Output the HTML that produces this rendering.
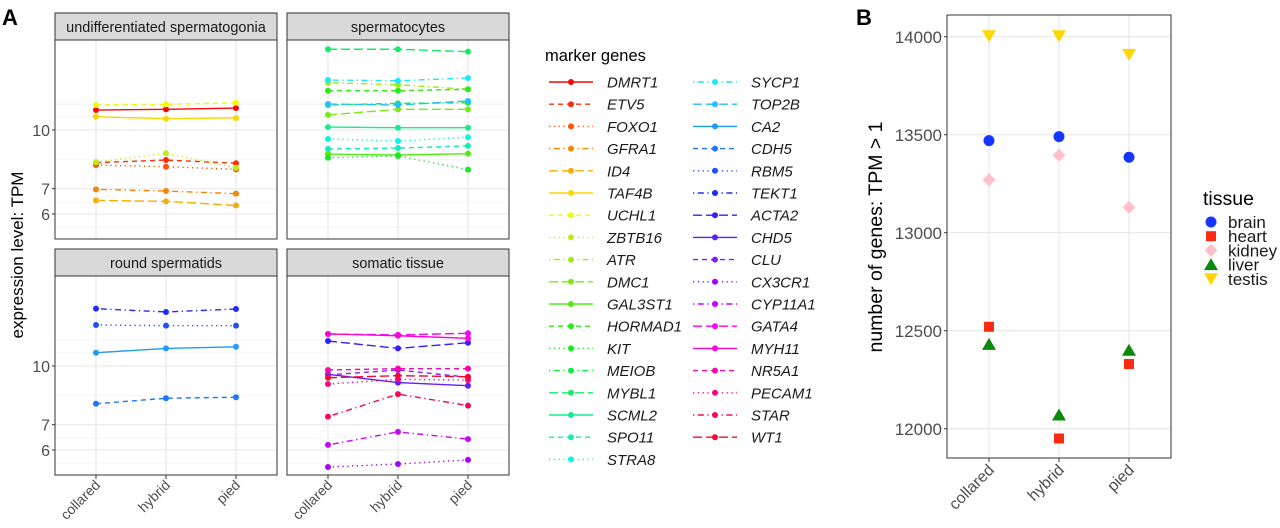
<!DOCTYPE html>
<html><head><meta charset="utf-8"><style>
html,body{margin:0;padding:0;background:#fff;}
svg{display:block;font-family:"Liberation Sans",Arial,sans-serif;}
</style></head><body>
<svg id="fig" width="1280" height="528" viewBox="0 0 1280 528" xmlns="http://www.w3.org/2000/svg">
<text x="2" y="25" font-size="22" font-weight="bold" fill="#000">A</text>
<text x="856" y="25" font-size="22" font-weight="bold" fill="#000">B</text>
<text transform="translate(23,255) rotate(-90)" text-anchor="middle" font-size="17" fill="#000">expression level:  TPM</text>
<text transform="translate(882,237) rotate(-90)" text-anchor="middle" font-size="19.5" fill="#000">number of genes: TPM &gt; 1</text>
<g id="gA"></g><g id="gB"></g><g id="legA"></g><g id="legB"></g>
</svg>
<script>
const genes = ["DMRT1","ETV5","FOXO1","GFRA1","ID4","TAF4B","UCHL1","ZBTB16","ATR","DMC1","GAL3ST1","HORMAD1","KIT","MEIOB","MYBL1","SCML2","SPO11","STRA8","SYCP1","TOP2B","CA2","CDH5","RBM5","TEKT1","ACTA2","CHD5","CLU","CX3CR1","CYP11A1","GATA4","MYH11","NR5A1","PECAM1","STAR","WT1"];
const species = ["collared","hybrid","pied"];
const panelTitles = ["undifferentiated spermatogonia","spermatocytes","round spermatids","somatic tissue"];
const panelOf = [0,0,0,0,0,0,0,0,1,1,1,1,1,1,1,1,1,1,1,1,2,2,2,2,3,3,3,3,3,3,3,3,3,3,3];
const expr = [
[11.29,11.34,11.43],[8.20,8.33,8.17],[8.08,8.00,7.87],[6.97,6.90,6.79],[6.52,6.48,6.32],
[10.84,10.71,10.76],[11.64,11.69,11.80],[8.22,8.68,7.95],
[13.33,13.17,12.81],[10.96,11.34,11.34],[8.64,8.59,8.66],[12.70,12.70,12.81],[8.45,8.54,7.86],
[11.64,11.76,11.80],[16.34,16.34,16.10],[10.18,10.14,10.14],[8.91,8.96,9.08],[9.47,9.35,9.57],
[13.55,13.49,13.72],[11.71,11.64,11.93],
[10.84,11.13,11.24],[7.95,8.22,8.27],[12.83,12.78,12.78],[14.17,13.89,14.14],
[11.64,11.13,11.52],[9.51,9.04,8.87],[9.47,9.76,9.34],[5.41,5.51,5.65],[6.19,6.70,6.41],
[12.15,12.08,12.20],[12.15,12.02,11.83],[9.76,9.84,9.84],[8.96,9.22,9.18],[7.35,8.43,7.86],[9.31,9.43,9.37]
];
const yTicksA = [6,7,10];
const yMinorA = [5.54,6.45,8.37,10.83,11.71];
const tissues = ["brain","heart","kidney","liver","testis"];
const geneCounts = [[13470,13490,13385],[12520,11950,12330],[13270,13395,13130],[12430,12070,12400],[14005,14005,13910]];
const yTicksB = [12000,12500,13000,13500,14000];
</script>
<script>
const NS="http://www.w3.org/2000/svg";
function mk(tag,attrs,parent){const e=document.createElementNS(NS,tag);for(const k in attrs)e.setAttribute(k,attrs[k]);parent.appendChild(e);return e;}
const dashes=["none","5,4","1.3,3.5","1.3,3.5,6,3.5","9,4"];
function col(i){const h=i*360/genes.length;return "hsl("+h+","+(h>70&&h<170?85:95)+"%,"+(i>=18&&i<=26?55:50)+"%)";}
const gA=document.getElementById("gA");
const panels=[{x0:55,x1:277,st:13,p0:40,p1:239,base:130},{x0:287,x1:509,st:13,p0:40,p1:239,base:130},
{x0:55,x1:277,st:249,p0:276,p1:475,base:366},{x0:287,x1:509,st:249,p0:276,p1:475,base:366}];
function xA(p,j){return p.x0+41+j*70;}
function yA(p,v){return p.base-114*Math.log2(v/10);}
panels.forEach((p,pi)=>{
  const g=mk("g",{},gA);
  
  
  mk("rect",{x:p.x0,y:p.p0,width:p.x1-p.x0,height:p.p1-p.p0,fill:"#fff"},g);
  yMinorA.forEach(v=>mk("line",{x1:p.x0,x2:p.x1,y1:yA(p,v),y2:yA(p,v),stroke:"#f2f2f2","stroke-width":0.8},g));
  yTicksA.forEach(v=>mk("line",{x1:p.x0,x2:p.x1,y1:yA(p,v),y2:yA(p,v),stroke:"#ebebeb","stroke-width":1.3},g));
  species.forEach((s,j)=>mk("line",{x1:xA(p,j),x2:xA(p,j),y1:p.p0,y2:p.p1,stroke:"#ebebeb","stroke-width":1.3},g));
  const st=mk("rect",{x:p.x0,y:p.st,width:p.x1-p.x0,height:p.p0-p.st,fill:"#d9d9d9",stroke:"#333","stroke-width":1},g);
  
  
  const t=mk("text",{x:(p.x0+p.x1)/2,y:p.st+19,"text-anchor":"middle","font-size":14.5,fill:"#1a1a1a"},g);
  t.textContent=panelTitles[pi];
  
  
  genes.forEach((gn,i)=>{
    if(panelOf[i]!==pi)return;
    const pts=expr[i].map((v,j)=>xA(p,j)+","+yA(p,v)).join(" ");
    const pl=mk("polyline",{points:pts,fill:"none",stroke:col(i),"stroke-width":1.4,"stroke-dasharray":dashes[i%5]},g);
    
    
    expr[i].forEach((v,j)=>{
      const c=mk("circle",{cx:xA(p,j),cy:yA(p,v),r:3,fill:col(i)},g);
      
      
    });
  });
  mk("rect",{x:p.x0,y:p.p0,width:p.x1-p.x0,height:p.p1-p.p0,fill:"none",stroke:"#333","stroke-width":1},g);
  if(pi%2===0){
    yTicksA.forEach(v=>{
      mk("line",{x1:p.x0-3,x2:p.x0,y1:yA(p,v),y2:yA(p,v),stroke:"#333"},g);
      const tl=mk("text",{x:p.x0-5,y:yA(p,v)+6,"text-anchor":"end","font-size":16,fill:"#4d4d4d"},g);
      tl.textContent=v;
      
      
    });
  }
  if(pi>=2){
    species.forEach((s,j)=>{
      mk("line",{x1:xA(p,j),x2:xA(p,j),y1:p.p1,y2:p.p1+4,stroke:"#333"},g);
      const tl=mk("text",{transform:"translate("+(xA(p,j)+5)+","+(p.p1+11)+") rotate(-45)","text-anchor":"end","font-size":14,fill:"#4d4d4d"},g);
      tl.textContent=s;
      
      
    });
  }
});
const legA=document.getElementById("legA");


const lt=mk("text",{x:545,y:61,"font-size":16.5,fill:"#000"},legA);
lt.textContent="marker genes";
genes.forEach((gn,i)=>{
  const c=i<18?0:1, r=i<18?i:i-18;
  const lx=c?693:549, y=82+r*22.2;
  const g=mk("g",{},legA);
  
  
  mk("line",{x1:lx,x2:lx+44,y1:y,y2:y,stroke:col(i),"stroke-width":1.4,"stroke-dasharray":dashes[i%5]},g);
  mk("circle",{cx:lx+22,cy:y,r:3,fill:col(i)},g);
  const t=mk("text",{x:lx+58,y:y+5.5,"font-size":15,"font-style":"italic",fill:"#1a1a1a"},g);
  t.textContent=gn;
});
const gB=document.getElementById("gB");
const B={x0:947,x1:1171,y0:15,y1:458};
function xB(j){return 989+j*70;}
function yB(v){return 428.7-(v-12000)*0.196;}
mk("rect",{x:B.x0,y:B.y0,width:B.x1-B.x0,height:B.y1-B.y0,fill:"#fff"},gB);
yTicksB.forEach(v=>mk("line",{x1:B.x0,x2:B.x1,y1:yB(v),y2:yB(v),stroke:"#ebebeb","stroke-width":1.3},gB));
species.forEach((s,j)=>mk("line",{x1:xB(j),x2:xB(j),y1:B.y0,y2:B.y1,stroke:"#ebebeb","stroke-width":1.3},gB));
const tcol=["#1436ff","#ff2a0f","#ffc0cb","#0a8a0a","#ffd700"];
function shape(k,x,y,parent){
  if(k===0)return mk("circle",{cx:x,cy:y,r:5.5,fill:tcol[0]},parent);
  if(k===1)return mk("rect",{x:x-5,y:y-5,width:10,height:10,fill:tcol[1]},parent);
  if(k===2)return mk("polygon",{points:(x)+","+(y-6.5)+" "+(x+6.5)+","+y+" "+x+","+(y+6.5)+" "+(x-6.5)+","+y,fill:tcol[2]},parent);
  if(k===3)return mk("polygon",{points:x+","+(y-6.5)+" "+(x+7)+","+(y+5.5)+" "+(x-7)+","+(y+5.5),fill:tcol[3]},parent);
  return mk("polygon",{points:x+","+(y+6.5)+" "+(x+7)+","+(y-5.5)+" "+(x-7)+","+(y-5.5),fill:tcol[4]},parent);
}
tissues.forEach((ts,k)=>{
  geneCounts[k].forEach((v,j)=>{
    const s=shape(k,xB(j),yB(v),gB);
    
    
  });
});
mk("rect",{x:B.x0,y:B.y0,width:B.x1-B.x0,height:B.y1-B.y0,fill:"none",stroke:"#333","stroke-width":1},gB);
yTicksB.forEach(v=>{
  mk("line",{x1:B.x0-3,x2:B.x0,y1:yB(v),y2:yB(v),stroke:"#333"},gB);
  const t=mk("text",{x:B.x0-5,y:yB(v)+6.5,"text-anchor":"end","font-size":17,fill:"#4d4d4d"},gB);
  t.textContent=v;
  
  
});
species.forEach((s,j)=>{
  mk("line",{x1:xB(j),x2:xB(j),y1:B.y1,y2:B.y1+4,stroke:"#333"},gB);
  const t=mk("text",{transform:"translate("+(xB(j)+6)+","+(B.y1+13)+") rotate(-45)","text-anchor":"end","font-size":16,fill:"#4d4d4d"},gB);
  t.textContent=s;
  
  
});
const legB=document.getElementById("legB");


const tt=mk("text",{x:1203,y:205,"font-size":19.5,fill:"#000"},legB);
tt.textContent="tissue";
tissues.forEach((ts,k)=>{
  const y=222+k*14.2;
  const g=mk("g",{},legB);
  
  
  shape(k,1211,y,g);
  const t=mk("text",{x:1228,y:y+6,"font-size":17,fill:"#1a1a1a"},g);
  t.textContent=ts;
});
</script>
</body></html>
